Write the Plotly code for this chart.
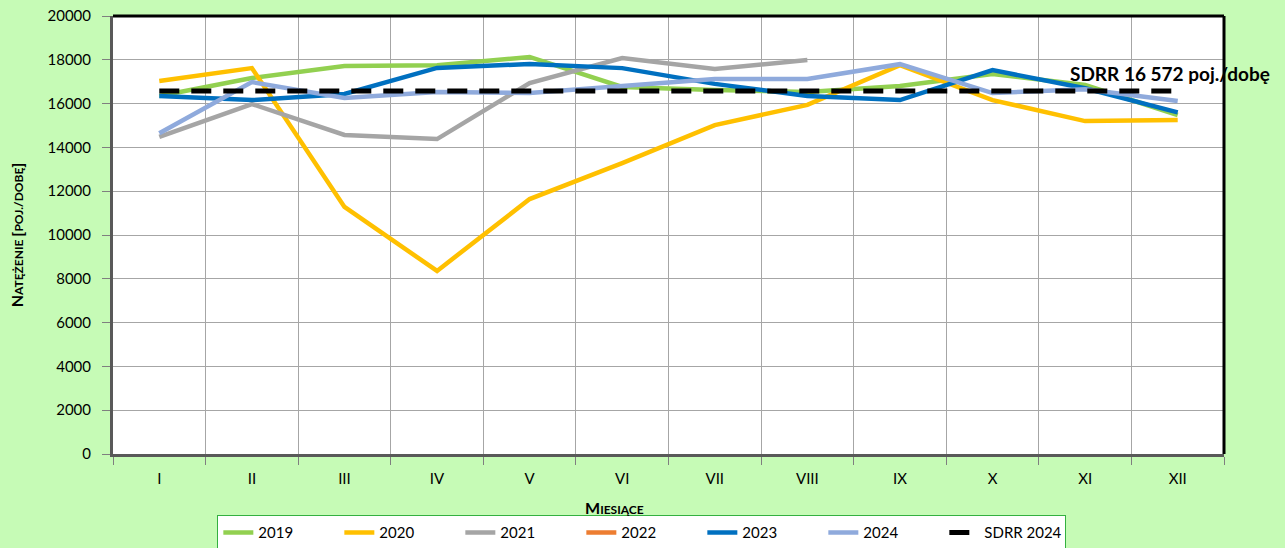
import plotly.graph_objects as go

months = ["I", "II", "III", "IV", "V", "VI", "VII", "VIII", "IX", "X", "XI", "XII"]
v2019 = [16350, 17170, 17720, 17750, 18130, 16760, 16620, 16530, 16800, 17350, 16850, 15480]
v2020 = [17030, 17620, 11280, 8360, 11640, 13280, 15020, 15940, 17760, 16160, 15200, 15250]
v2021 = [14480, 15980, 14570, 14380, 16940, 18080, 17580, 17990, None, None, None, None]
v2022 = [None] * 12
v2023 = [16350, 16160, 16440, 17630, 17810, 17620, 16900, 16350, 16160, 17530, 16700, 15600]
v2024 = [14650, 16980, 16260, 16530, 16480, 16800, 17120, 17120, 17800, 16480, 16660, 16120]
sdrr_value = 16572
sdrr = [sdrr_value] * 12

series = [
    ("2019", v2019, "#92D050"),
    ("2020", v2020, "#FFC000"),
    ("2021", v2021, "#A5A5A5"),
    ("2022", v2022, "#ED7D31"),
    ("2023", v2023, "#0070C0"),
    ("2024", v2024, "#8FAADC"),
]

FONT = "Lato, 'Open Sans', sans-serif"

fig = go.Figure()
for name, vals, col in series:
    fig.add_trace(go.Scatter(x=months, y=vals, name=name, mode="lines",
                             line=dict(color=col, width=4.5), connectgaps=False))
fig.add_trace(go.Scatter(x=months, y=sdrr, name="SDRR 2024", mode="lines",
                         line=dict(color="black", width=5, dash="20px,12px")))

def smallcaps(first, rest, small=12):
    return f"<b>{first}<span style='font-size:{small}px'>{rest}</span></b>"

fig.update_layout(
    width=1285, height=548,
    paper_bgcolor="#C6FBB6",
    plot_bgcolor="white",
    margin=dict(l=113, r=61, t=16, b=94, autoexpand=False),
    font=dict(family=FONT, size=15, color="black"),
    showlegend=True,
    legend=dict(orientation="h", x=0.476, xanchor="center", y=-0.140, yanchor="top",
                bgcolor="white", bordercolor="#33B040", borderwidth=1,
                font=dict(size=15), itemwidth=30, entrywidth=76, entrywidthmode="pixels",
                tracegroupgap=0),
    xaxis=dict(type="category", range=[-0.5, 11.5], showgrid=True, gridcolor="#A6A6A6",
               gridwidth=1, tickson="boundaries", ticks="outside", ticklen=8,
               tickcolor="#7F7F7F", showline=True, linecolor="#595959", linewidth=3,
               tickfont=dict(size=15), zeroline=False, automargin=False,
               ticklabelstandoff=9),
    yaxis=dict(range=[0, 20000], dtick=2000, tickformat="d", showgrid=True,
               gridcolor="#A6A6A6", gridwidth=1, ticks="outside", ticklen=8,
               tickcolor="#7F7F7F", showline=True, linecolor="#595959", linewidth=3,
               zeroline=False, tickfont=dict(size=15), automargin=False,
               ticklabelstandoff=8),
    shapes=[
        dict(type="line", xref="paper", yref="paper", x0=0, x1=1, y0=1, y1=1,
             line=dict(color="black", width=3)),
        dict(type="line", xref="paper", yref="paper", x0=1, x1=1, y0=0, y1=1,
             line=dict(color="black", width=3)),
    ],
    annotations=[
        dict(text="<b>SDRR 16 572 poj./dobę</b>", xref="paper", yref="paper",
             x=0.8596, y=0.868, xanchor="left", yanchor="middle", showarrow=False,
             font=dict(size=19, color="black")),
        dict(text=smallcaps("M", "IESIĄCE", 12), xref="paper", yref="paper",
             x=0.451, y=-0.123, xanchor="center", yanchor="middle", showarrow=False,
             font=dict(size=16)),
        dict(text=smallcaps("N", "ATĘŻENIE ", 12) + "<b>[<span style='font-size:12px'>POJ./DOBĘ</span>]</b>",
             xref="paper", yref="paper", x=-0.087, y=0.5, xanchor="center", yanchor="middle",
             showarrow=False, textangle=-90, font=dict(size=16)),
    ],
)

fig.write_html("out.html", config={"displayModeBar": False})

with open("out.html", "r", encoding="utf-8") as f:
    html = f.read()
html = html.replace("<head>", "<head><style>html,body{margin:0;padding:0;overflow:hidden;}</style>", 1)
with open("out.html", "w", encoding="utf-8") as f:
    f.write(html)
